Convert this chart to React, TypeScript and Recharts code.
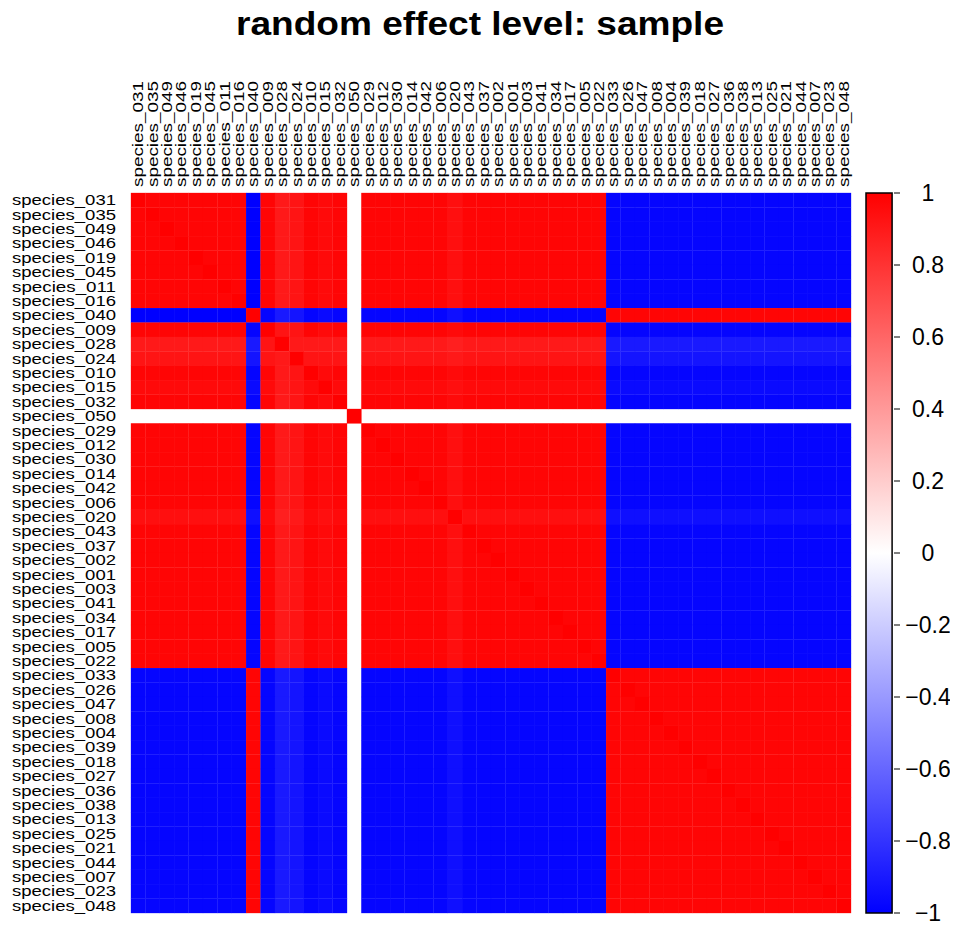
import { ScatterChart, Scatter, XAxis, YAxis, ComposedChart, Bar } from 'recharts'

const SPECIES = [
	'species_031', 'species_035', 'species_049', 'species_046', 'species_019', 'species_045', 'species_011', 'species_016',
	'species_040',
	'species_009', 'species_028', 'species_024', 'species_010', 'species_015', 'species_032',
	'species_050',
	'species_029', 'species_012', 'species_030', 'species_014', 'species_042', 'species_006', 'species_020', 'species_043',
	'species_037', 'species_002', 'species_001', 'species_003', 'species_041', 'species_034', 'species_017', 'species_005',
	'species_022',
	'species_033', 'species_026', 'species_047', 'species_008', 'species_004', 'species_039', 'species_018', 'species_027',
	'species_036', 'species_038', 'species_013', 'species_025', 'species_021', 'species_044', 'species_007', 'species_023',
	'species_048',
]

// one letter per cell ('.' = no value, drawn white)
const LEVELS: Record<string, number> = {
	R: 1, S: 0.98, T: 0.96, U: 0.94, V: 0.92, W: 0.9, X: 0.88,
	r: -1, s: -0.98, t: -0.96, u: -0.94, v: -0.92, w: -0.9, x: -0.88,
}

// rows in the same order as SPECIES, spaces only split the blocks
const ROWS = [
	'RSSSSSSS r SWVSTS . SSSSSSUSSSSSSSSSS sssssssssssssssss',
	'SRSSSSSS r SWVSTS . SSSSSSUSSSSSSSSSS sssssssssssssssss',
	'SSRSSSSS r SWVSTS . SSSSSSUSSSSSSSSSS sssssssssssssssss',
	'SSSRSSSS r SWVSTS . SSSSSSUSSSSSSSSSS sssssssssssssssss',
	'SSSSRSSS r SWVSTS . SSSSSSUSSSSSSSSSS sssssssssssssssss',
	'SSSSSRSS r SWVSTS . SSSSSSUSSSSSSSSSS sssssssssssssssss',
	'SSSSSSRS r SWVSTS . SSSSSSUSSSSSSSSSS sssssssssssssssss',
	'SSSSSSSR r SWVSTS . SSSSSSUSSSSSSSSSS sssssssssssssssss',
	'rrrrrrrr R swvsts . ssssssussssssssss SSSSSSSSSSSSSSSSS',
	'SSSSSSSS s RVVSTS . SSSSSSTSSSSSSSSSS sssssssssssssssss',
	'WWWWWWWW w VRWWWW . WWWWWWXWWWWWWWWWW wwwwwwwwwwwwwwwww',
	'VVVVVVVV v VWRVVV . VVVVVVWVVVVVVVVVV vvvvvvvvvvvvvvvvv',
	'SSSSSSSS s SWVRTS . SSSSSSTSSSSSSSSSS sssssssssssssssss',
	'TTTTTTTT t TWVTRT . TTTTTTUTTTTTTTTTT ttttttttttttttttt',
	'SSSSSSSS s SWVSTR . SSSSSSTSSSSSSSSSS sssssssssssssssss',
	'........ . ...... R ................. .................',
	'SSSSSSSS s SWVSTS . RSSSSSUSSSSSSSSSS sssssssssssssssss',
	'SSSSSSSS s SWVSTS . SRSSSSUSSSSSSSSSS sssssssssssssssss',
	'SSSSSSSS s SWVSTS . SSRSSSUSSSSSSSSSS sssssssssssssssss',
	'SSSSSSSS s SWVSTS . SSSRSSUSSSSSSSSSS sssssssssssssssss',
	'SSSSSSSS s SWVSTS . SSSSRSUSSSSSSSSSS sssssssssssssssss',
	'SSSSSSSS s SWVSTS . SSSSSRUSSSSSSSSSS sssssssssssssssss',
	'UUUUUUUU u TXWTUT . UUUUUURUUUUUUUUUU uuuuuuuuuuuuuuuuu',
	'SSSSSSSS s SWVSTS . SSSSSSURSSSSSSSSS sssssssssssssssss',
	'SSSSSSSS s SWVSTS . SSSSSSUSRSSSSSSSS sssssssssssssssss',
	'SSSSSSSS s SWVSTS . SSSSSSUSSRSSSSSSS sssssssssssssssss',
	'SSSSSSSS s SWVSTS . SSSSSSUSSSRSSSSSS sssssssssssssssss',
	'SSSSSSSS s SWVSTS . SSSSSSUSSSSRSSSSS sssssssssssssssss',
	'SSSSSSSS s SWVSTS . SSSSSSUSSSSSRSSSS sssssssssssssssss',
	'SSSSSSSS s SWVSTS . SSSSSSUSSSSSSRSSS sssssssssssssssss',
	'SSSSSSSS s SWVSTS . SSSSSSUSSSSSSSRSS sssssssssssssssss',
	'SSSSSSSS s SWVSTS . SSSSSSUSSSSSSSSRS sssssssssssssssss',
	'SSSSSSSS s SWVSTS . SSSSSSUSSSSSSSSSR sssssssssssssssss',
	'ssssssss S swvsts . ssssssussssssssss RSSSSSSSSSSSSSSSS',
	'ssssssss S swvsts . ssssssussssssssss SRSSSSSSSSSSSSSSS',
	'ssssssss S swvsts . ssssssussssssssss SSRSSSSSSSSSSSSSS',
	'ssssssss S swvsts . ssssssussssssssss SSSRSSSSSSSSSSSSS',
	'ssssssss S swvsts . ssssssussssssssss SSSSRSSSSSSSSSSSS',
	'ssssssss S swvsts . ssssssussssssssss SSSSSRSSSSSSSSSSS',
	'ssssssss S swvsts . ssssssussssssssss SSSSSSRSSSSSSSSSS',
	'ssssssss S swvsts . ssssssussssssssss SSSSSSSRSSSSSSSSS',
	'ssssssss S swvsts . ssssssussssssssss SSSSSSSSRSSSSSSSS',
	'ssssssss S swvsts . ssssssussssssssss SSSSSSSSSRSSSSSSS',
	'ssssssss S swvsts . ssssssussssssssss SSSSSSSSSSRSSSSSS',
	'ssssssss S swvsts . ssssssussssssssss SSSSSSSSSSSRSSSSS',
	'ssssssss S swvsts . ssssssussssssssss SSSSSSSSSSSSRSSSS',
	'ssssssss S swvsts . ssssssussssssssss SSSSSSSSSSSSSRSSS',
	'ssssssss S swvsts . ssssssussssssssss SSSSSSSSSSSSSSRSS',
	'ssssssss S swvsts . ssssssussssssssss SSSSSSSSSSSSSSSRS',
	'ssssssss S swvsts . ssssssussssssssss SSSSSSSSSSSSSSSSR',
]

const COLORBAR_TICKS = [-1, -0.8, -0.6, -0.4, -0.2, 0, 0.2, 0.4, 0.6, 0.8, 1]
const COLORBAR_SPAN = [{ key: 'scale', span: [-1, 1] }]

const W = 958
const H = 927
const PLOT_LEFT = 131
const PLOT_TOP = 193
const PLOT_SIZE = 720
const X_AXIS_H = 130
const Y_AXIS_W = 125
const N = SPECIES.length
const CELL = PLOT_SIZE / N
const FONT = 'Liberation Sans, Arial, Helvetica, sans-serif'
const LABEL_FONT = 14
const LABEL_LEN = 104
const BAR_LEFT = 865
const BAR_RIGHT = 894
const CB_AXIS_W = W - BAR_RIGHT

const cellTicks = SPECIES.map((_, i) => i + 0.5)

const cells = ROWS.flatMap((row, i) =>
	row
		.replace(/ /g, '')
		.split('')
		.map((ch, j) => ({ x: j + 0.5, y: i + 0.5, v: LEVELS[ch] }))
		.filter((d) => d.v !== undefined)
)

function fillFor(v: number) {
	const t = Math.round(255 * (1 - Math.abs(v)))
	return v >= 0 ? `rgb(255,${t},${t})` : `rgb(${t},${t},255)`
}

function HeatCell(props: any) {
	const { cx, cy, payload } = props
	// tiny overlap so neighbouring cells only leave a faint seam
	return (
		<rect
			x={cx - CELL / 2 - 0.15}
			y={cy - CELL / 2 - 0.15}
			width={CELL + 0.3}
			height={CELL + 0.3}
			fill={fillFor(payload.v)}
		/>
	)
}

function TopTick(props: any) {
	const { x, payload } = props
	return (
		<text
			transform={`translate(${x + LABEL_FONT * 0.36},${PLOT_TOP - 6}) rotate(-90)`}
			textAnchor="start"
			fontSize={LABEL_FONT}
			fontFamily={FONT}
			textLength={LABEL_LEN + 2}
			lengthAdjust="spacingAndGlyphs"
			fill="#000"
		>
			{SPECIES[Math.floor(payload.value)]}
		</text>
	)
}

function LeftTick(props: any) {
	const { y, payload } = props
	return (
		<text
			x={12}
			y={y + LABEL_FONT * 0.36}
			textAnchor="start"
			fontSize={LABEL_FONT}
			fontFamily={FONT}
			textLength={LABEL_LEN}
			lengthAdjust="spacingAndGlyphs"
			fill="#000"
		>
			{SPECIES[Math.floor(payload.value)]}
		</text>
	)
}

function BarTick(props: any) {
	const { y, payload } = props
	const label = String(payload.value).replace('-', '\u2212')
	return (
		<text x={928} y={y + 8} textAnchor="middle" fontSize={23} fontFamily={FONT} fill="#000">
			{label}
		</text>
	)
}

export default function App() {
	return (
		<div style={{ position: 'relative', width: W, height: H, margin: '-8px 0 0 -8px', background: '#fff' }}>
			<svg width={W} height={60} style={{ position: 'absolute', left: 0, top: 0 }}>
				<text
					x={480}
					y={35}
					textAnchor="middle"
					fontSize={34}
					fontWeight="bold"
					fontFamily={FONT}
					textLength={488}
					lengthAdjust="spacingAndGlyphs"
				>
					random effect level: sample
				</text>
			</svg>
			<div style={{ position: 'absolute', left: 0, top: 0 }}>
				<ScatterChart
					width={W}
					height={H}
					margin={{
						top: PLOT_TOP - X_AXIS_H,
						right: W - PLOT_LEFT - PLOT_SIZE,
						bottom: H - PLOT_TOP - PLOT_SIZE,
						left: PLOT_LEFT - Y_AXIS_W,
					}}
				>
					<XAxis
						type="number"
						dataKey="x"
						orientation="top"
						domain={[0, N]}
						ticks={cellTicks}
						interval={0}
						height={X_AXIS_H}
						axisLine={false}
						tickLine={false}
						tick={(p: any) => <TopTick {...p} />}
					/>
					<YAxis
						type="number"
						dataKey="y"
						domain={[0, N]}
						reversed
						ticks={cellTicks}
						interval={0}
						width={Y_AXIS_W}
						axisLine={false}
						tickLine={false}
						tick={(p: any) => <LeftTick {...p} />}
					/>
					<Scatter data={cells} shape={HeatCell} isAnimationActive={false} />
				</ScatterChart>
			</div>
			<div style={{ position: 'absolute', left: 0, top: 0 }}>
				<ComposedChart
					width={W}
					height={H}
					data={COLORBAR_SPAN}
					barCategoryGap={0}
					margin={{ top: PLOT_TOP, right: 0, bottom: H - PLOT_TOP - PLOT_SIZE, left: BAR_LEFT }}
				>
					<defs>
						<linearGradient id="cbGrad" x1="0" y1="0" x2="0" y2="1">
							<stop offset="0%" stopColor="#ff0000" />
							<stop offset="50%" stopColor="#ffffff" />
							<stop offset="100%" stopColor="#0000ff" />
						</linearGradient>
					</defs>
					<XAxis type="category" dataKey="key" hide />
					<YAxis
						type="number"
						orientation="right"
						domain={[-1, 1]}
						ticks={COLORBAR_TICKS}
						interval={0}
						width={CB_AXIS_W}
						axisLine={false}
						tickLine={{ stroke: '#000', strokeWidth: 1 }}
						tickSize={6}
						tick={(p: any) => <BarTick {...p} />}
					/>
					<Bar
						dataKey="span"
						fill="url(#cbGrad)"
						stroke="#000"
						strokeWidth={1.5}
						barSize={BAR_RIGHT - BAR_LEFT}
						isAnimationActive={false}
					/>
				</ComposedChart>
			</div>
		</div>
	)
}
